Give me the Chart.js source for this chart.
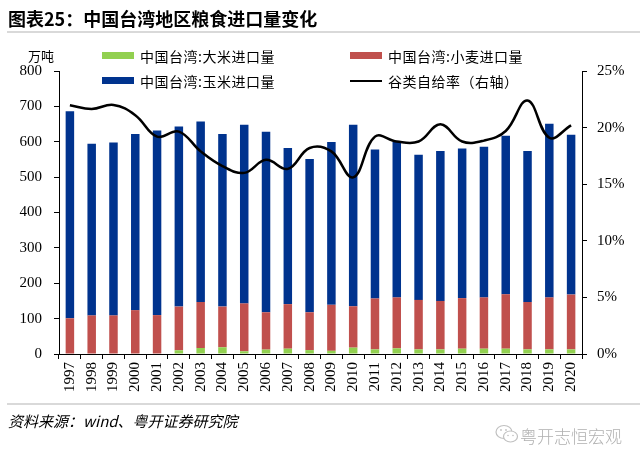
<!DOCTYPE html>
<html>
<head>
<meta charset="utf-8">
<script src="https://cdn.jsdelivr.net/npm/chart.js@4"></script>
<style>
  html, body { margin: 0; padding: 0; background: #fff; }
  #wrap { position: relative; width: 640px; height: 463px; overflow: hidden; }
  #c { position: absolute; left: 0; top: 0; }
  .t { position: absolute; white-space: nowrap; color: #000; }
  #title { left: 8px; top: 5px; font: bold 18px "Noto Sans CJK SC", sans-serif; }
  .rule { position: absolute; left: 7px; width: 633px; height: 2px; background: #d9d9d9; }
  #unit { left: 28px; top: 46px; font: 13px "Noto Sans CJK SC", serif; }
  .leg { position: absolute; font: 14px "Noto Sans CJK SC", serif; letter-spacing: 0.5px; white-space: nowrap; line-height: 18px; }
  .sw { position: absolute; width: 32px; height: 7px; }
  .ln { position: absolute; width: 32px; height: 2px; background: #000; }
  #src { left: 8px; top: 410px; font: italic 15px "Noto Sans CJK SC", sans-serif; }
  #wm { left: 520px; top: 423px; font: 300 17px "Noto Sans CJK SC", sans-serif; color: #b0b0b0; }
  #wmicon { position: absolute; left: 495px; top: 424px; }
</style>
</head>
<body>
<div id="wrap">
  <canvas id="c" width="640" height="463"></canvas>
  <div id="title" class="t">图表25：中国台湾地区粮食进口量变化</div>
  <div class="rule" style="top:31px"></div>
  <div id="unit" class="t">万吨</div>

  <div class="sw" style="left:102px; top:52px; background:#92D050"></div>
  <div class="leg" style="left:140px; top:47px">中国台湾:大米进口量</div>
  <div class="sw" style="left:350px; top:52px; background:#C0504D"></div>
  <div class="leg" style="left:388px; top:47px">中国台湾:小麦进口量</div>
  <div class="sw" style="left:102px; top:77px; background:#00338E"></div>
  <div class="leg" style="left:140px; top:72px">中国台湾:玉米进口量</div>
  <div class="ln" style="left:350px; top:80px"></div>
  <div class="leg" style="left:388px; top:72px">谷类自给率（右轴）</div>

  <div class="rule" style="top:403px"></div>
  <div id="src" class="t">资料来源：wind、粤开证券研究院</div>
  <svg id="wmicon" width="24" height="20" viewBox="0 0 24 20">
    <ellipse cx="9" cy="8" rx="8" ry="6.5" fill="none" stroke="#c0c0c0" stroke-width="1.2"/>
    <ellipse cx="15.5" cy="12.5" rx="7" ry="5.5" fill="#fff" stroke="#c0c0c0" stroke-width="1.2"/>
    <circle cx="6" cy="6" r="0.9" fill="#c0c0c0"/><circle cx="11" cy="6" r="0.9" fill="#c0c0c0"/>
    <circle cx="13" cy="11.5" r="0.8" fill="#c0c0c0"/><circle cx="18" cy="11.5" r="0.8" fill="#c0c0c0"/>
  </svg>
  <div id="wm" class="t">粤开志恒宏观</div>
</div>
<script>
const years = ['1997','1998','1999','2000','2001','2002','2003','2004','2005','2006','2007','2008',
               '2009','2010','2011','2012','2013','2014','2015','2016','2017','2018','2019','2020'];
const riceImports  = [0, 0, 0, 0, 0, 10.5, 17, 19, 7.6, 12.4, 15, 11, 9, 18, 13, 16, 13, 13, 15, 15, 15, 13, 13, 13];
const wheatImports = [101, 109, 109, 124, 110, 123.5, 130, 115, 135.4, 105.6, 126, 107, 130, 117, 144, 144, 140, 137, 143, 145, 154, 134, 147, 155];
const cornImports  = [585, 485, 489, 498, 522, 509, 510, 488, 505, 510, 441, 433, 460, 513, 421, 440, 410, 424, 423, 426, 448, 427, 491, 452];
const grainSelfSufficiency = [21.97, 21.65, 22.0, 21.1, 19.2, 19.65, 17.9, 16.6, 16.0, 17.15, 16.35, 18.2, 17.9,
                              15.6, 19.2, 18.77, 18.77, 20.3, 18.77, 18.85, 19.7, 22.4, 19.1, 20.2];
const leftMax = 800, leftStep = 100;
const rightMax = 25, rightStep = 5;

const tickFont = { family: "'Liberation Serif', serif", size: 15 };
const axisCommon = {
  border: { display: true, color: '#000', width: 1 },
  grid: { drawOnChartArea: false, drawTicks: true, tickLength: 5, color: '#000', lineWidth: 1 },
};

function draw() {
  new Chart(document.getElementById('c'), {
    type: 'bar',
    data: {
      labels: years,
      datasets: [
        { type: 'line', label: '谷类自给率（右轴）', data: grainSelfSufficiency, yAxisID: 'y1',
          borderColor: '#000', borderWidth: 2.5, pointRadius: 0, tension: 0.4, fill: false, order: 0 },
        { label: '中国台湾:大米进口量', data: riceImports, backgroundColor: '#92D050', yAxisID: 'y', stack: 's', order: 1 },
        { label: '中国台湾:小麦进口量', data: wheatImports, backgroundColor: '#C0504D', yAxisID: 'y', stack: 's', order: 1 },
        { label: '中国台湾:玉米进口量', data: cornImports, backgroundColor: '#00338E', yAxisID: 'y', stack: 's', order: 1 },
      ]
    },
    options: {
      responsive: false,
      animation: false,
      devicePixelRatio: 1,
      layout: { padding: { top: 71, left: 0, right: 0, bottom: 0 } },
      datasets: { bar: { categoryPercentage: 1, barPercentage: 0.39 } },
      plugins: { legend: { display: false }, tooltip: { enabled: false } },
      scales: {
        x: {
          ...axisCommon,
          stacked: true,
          ticks: { font: tickFont, color: '#000', maxRotation: 90, minRotation: 90, padding: 3, autoSkip: false },
          afterFit: s => { s.height = 109; }
        },
        y: {
          ...axisCommon,
          position: 'left',
          stacked: true,
          min: 0, max: leftMax,
          ticks: { stepSize: leftStep, font: tickFont, color: '#000', padding: 12 },
          afterFit: s => { s.width = 59; }
        },
        y1: {
          ...axisCommon,
          position: 'right',
          min: 0, max: rightMax,
          ticks: { stepSize: rightStep, font: tickFont, color: '#000', padding: 10, callback: v => v + '%' },
          afterFit: s => { s.width = 58; }
        }
      }
    }
  });
}
if (document.fonts && document.fonts.load) {
  document.fonts.load("15px 'Liberation Serif'").then(draw, draw);
} else { draw(); }
</script>
</body>
</html>
